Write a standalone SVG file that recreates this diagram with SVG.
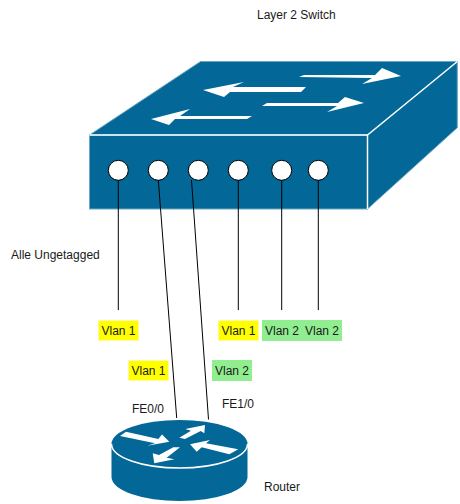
<svg xmlns="http://www.w3.org/2000/svg" width="460" height="504" viewBox="0 0 460 504">
<style>
.t{font-family:"Liberation Sans",Arial,Helvetica,sans-serif;font-size:12px;fill:#1a1a1a}
.m{text-anchor:middle}
.face{fill:#036897;stroke:#6fa8c4;stroke-width:1}
.edge{fill:none;stroke:#fff;stroke-width:1.5}
.ar{fill:#fff;stroke:none}
.port{fill:#fff;stroke:#000;stroke-width:1}
.c{fill:none;stroke:#000;stroke-width:1}
.y{fill:#ffff00;stroke:#fff9a0;stroke-width:1}
.g{fill:#90ee90;stroke:none}
</style>
<rect width="460" height="504" fill="#fff"/>
<g id="switch">
<polygon class="face" points="89.500,135 200.500,61.500 457.300,61.500 457.300,127.700 367.500,209"/>
<rect class="face" x="89.500" y="135" width="278" height="74"/>
<path class="edge" d="M89.500 135H367.500L457.300 61.500M367.500 135V209"/>
<polygon class="ar" points="299,77 304,75 375,75 382,68 401,76 362,84 372,78"/>
<polygon class="ar" points="203,90 244,82 233,87 306,87 301,92 230,92 224,97"/>
<polygon class="ar" points="262,106 267,103 338,103 345,97 364,103 327,112 337,106"/>
<polygon class="ar" points="151,119 190,109 180,116 252,116 247,119 175,119 169,125"/>
</g>
<g id="connectors">
<path class="c" d="M118.300 180V310"/>
<path class="c" d="M158.300 180L176.700 418"/>
<path class="c" d="M191.500 180L208.500 419.500"/>
<path class="c" d="M238.300 180V310"/>
<path class="c" d="M281.700 180V310"/>
<path class="c" d="M318.300 180V310"/>
</g>
<g id="ports">
<circle class="port" cx="118.300" cy="170.300" r="10"/>
<circle class="port" cx="158.300" cy="170.300" r="10"/>
<circle class="port" cx="198.300" cy="170.300" r="10"/>
<circle class="port" cx="238.300" cy="170.300" r="10"/>
<circle class="port" cx="281.700" cy="170.300" r="10"/>
<circle class="port" cx="318.300" cy="170.300" r="10"/>
</g>
<g id="router">
<path d="M111.500 444V477A68 24 0 0 0 247.500 477V444Z" fill="#036897"/>
<ellipse cx="179.500" cy="444" rx="68" ry="24" fill="#036897"/>
<path class="edge" d="M111.500 444A68 24 0 0 0 247.500 444"/>
<polygon class="ar" points="120,436 126,431.700 158.300,439 162,434.500 169.300,441.700 147.300,445.700 155,443.300"/>
<polygon class="ar" points="179.300,437.700 191,430.700 185.300,429 205,425 204.300,433.300 200.700,431 185,439"/>
<polygon class="ar" points="190,444.300 210,440 206,443.300 238.300,449.300 229.300,454.300 201.700,447.300 196.700,451.700"/>
<polygon class="ar" points="173.300,447.300 180,447.300 166.700,457.700 174.300,459.300 154.300,463.300 152.700,453.300 159,455"/>
</g>
<g id="vlan-labels">
<rect class="y" x="98.500" y="320.500" width="40" height="20"/>
<rect class="y" x="218.500" y="320.500" width="40" height="20"/>
<rect class="g" x="262" y="320" width="80" height="21"/>
<rect class="y" x="128.500" y="360.500" width="40" height="20"/>
<rect class="g" x="212" y="360" width="40" height="21"/>
<text class="t m" x="118.500" y="334.500">Vlan 1</text>
<text class="t m" x="238.500" y="334.500">Vlan 1</text>
<text class="t m" x="282" y="334.500">Vlan 2</text>
<text class="t m" x="322" y="334.500">Vlan 2</text>
<text class="t m" x="148.500" y="374.500">Vlan 1</text>
<text class="t m" x="232" y="374.500">Vlan 2</text>
</g>
<g id="labels">
<text class="t" x="257" y="19">Layer 2 Switch</text>
<text class="t" x="11" y="259">Alle Ungetagged</text>
<text class="t" x="132" y="413">FE0/0</text>
<text class="t" x="222" y="408">FE1/0</text>
<text class="t" x="264" y="491">Router</text>
</g>
</svg>
